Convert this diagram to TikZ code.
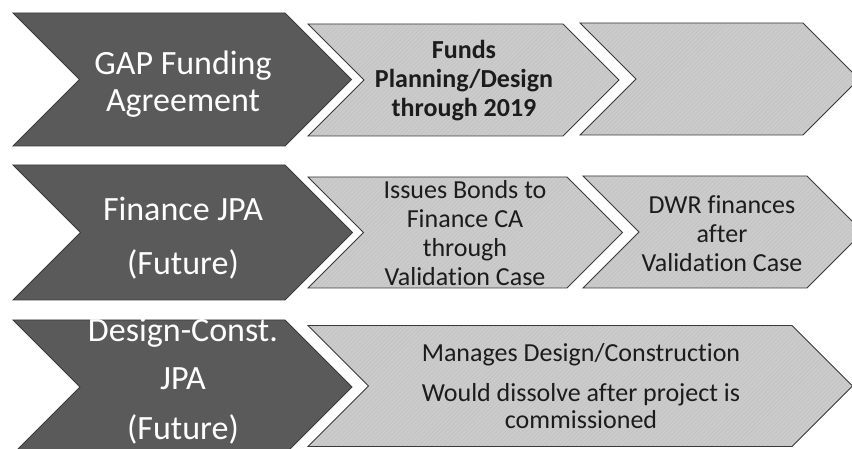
\documentclass[tikz,border=0pt]{standalone}
\usepackage{fontspec}
\setmainfont{Carlito}[Ligatures=NoCommon]
\usetikzlibrary{patterns.meta}
\definecolor{darkfill}{HTML}{5A5A5A}
\definecolor{lightfill}{HTML}{CBCBCB}
\definecolor{hatchcol}{HTML}{C0C0C0}
\definecolor{edgecol}{HTML}{3A3A3A}
\definecolor{inkcol}{HTML}{1C1C1C}
% #1 style, #2 left x, #3 top-right x, #4 centre y, #5 half height
\newcommand\chevshape[5]{%
  \path[#1] (#2,#4-#5) -- (#3,#4-#5) -- (#3+#5,#4) -- (#3,#4+#5) -- (#2,#4+#5) -- (#2+#5,#4) -- cycle;}
\tikzset{
  darkchev/.style={fill=darkfill, draw=edgecol, line width=0.8pt, line join=miter},
  lightchev/.style={preaction={fill=lightfill}, pattern={Lines[angle=45,distance=3pt,line width=0.4pt]}, pattern color=hatchcol, draw=edgecol, line width=0.8pt, line join=miter},
  darktxt/.style={text=white, align=center, font=\fontsize{34}{37}\selectfont, inner sep=0pt},
  lighttxt/.style={text=inkcol, align=center, font=\fontsize{26}{29}\selectfont, inner sep=0pt},
}
\begin{document}
\begin{tikzpicture}[x=1pt,y=-1pt]
\useasboundingbox (0,0) rectangle (852,449);
\clip (0,0) rectangle (852,449);
% row 1
\chevshape{darkchev}{13}{285}{79.5}{66.5}
\chevshape{lightchev}{308}{563}{80}{56}
\chevshape{lightchev}{580}{803}{79}{56}
% row 2
\chevshape{darkchev}{13}{285}{232.5}{67.5}
\chevshape{lightchev}{308}{567}{232.5}{55.5}
\chevshape{lightchev}{583}{807}{232}{56}
% row 3
\chevshape{darkchev}{13}{285}{387}{67}
\chevshape{lightchev}{308}{792}{386}{60.5}
% texts
\node[darktxt] (gap) at (183,84) {GAP Funding\\Agreement};
\node[lighttxt, font=\fontsize{26}{29}\selectfont\bfseries] (funds) at (464,81) {Funds\\Planning/Design\\through 2019};
\node[darktxt] (fin) at (183,238) {Finance JPA\\[17pt](Future)};
\node[lighttxt] (bonds) at (465,233) {Issues Bonds to\\Finance CA\\through\\Validation Case};
\node[lighttxt] (dwr) at (722,234) {DWR finances\\after\\Validation Case};
\node[darktxt] (dc) at (183,381) {Design-Const.\\[11pt]JPA\\[13pt](Future)};
\node[lighttxt, font=\fontsize{26}{26.5}\selectfont] (man) at (581,386) {Manages Design/Construction\\[13.5pt]Would dissolve after project is\\commissioned};
\end{tikzpicture}
\end{document}
